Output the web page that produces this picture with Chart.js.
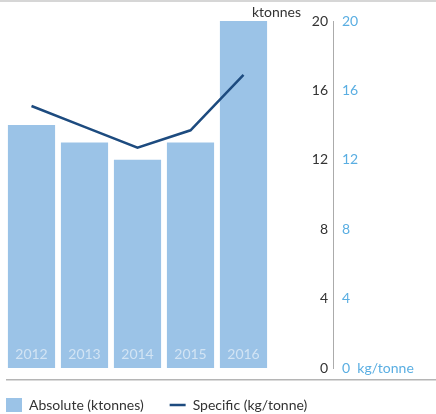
<!DOCTYPE html>
<html>
<head>
<meta charset="utf-8">
<script src="https://cdn.jsdelivr.net/npm/chart.js@4/dist/chart.umd.min.js"></script>
<style>
  html, body { margin: 0; padding: 0; background: #fff; }
  #wrap { width: 436px; height: 414px; position: relative; }
</style>
</head>
<body>
<div id="wrap"><canvas id="chart"></canvas></div>
<script>
// ── Data ──
const years = ['2012', '2013', '2014', '2015', '2016'];
const absolute = [14, 13, 12, 13, 20];          // ktonnes
const specific = [15.1, 13.9, 12.7, 13.7, 16.9]; // kg/tonne
const axisMin = 0, axisMax = 20, axisStep = 4;

const barColor = '#9bc3e7';
const lineColor = '#1d4b7f';
const blueText = '#5aaee2';
const darkText = '#333333';

Chart.defaults.font.family = 'Lato, "Open Sans", sans-serif';
Chart.defaults.font.size = 14;
Chart.defaults.color = darkText;

// ── Extra decorations: rules + axis unit ──
const decor = {
    id: 'decor',
    afterDraw(chart) {
        const { ctx, width } = chart;
        const y = chart.scales.y;
        ctx.save();
        ctx.fillStyle = '#d6d6d6';
        ctx.fillRect(0, 0, width, 2);
        ctx.fillStyle = '#b5b5b5';
        ctx.fillRect(6, 379, width - 6, 1.5);
        ctx.fillStyle = darkText;
        ctx.font = '14px Lato, "Open Sans", sans-serif';
        ctx.textAlign = 'right';
        ctx.textBaseline = 'middle';
        ctx.fillText('ktonnes', y.right - 27, 12);
        ctx.restore();
    }
};

// blank scale used only as spacing
const spacer = (pos, w, weight) => ({
    type: 'linear',
    position: pos,
    display: true,
    weight: weight,
    ticks: { display: false },
    grid: { display: false, drawTicks: false },
    border: { display: false },
    afterFit: s => { s.width = w; }
});

const ctx = document.getElementById('chart').getContext('2d');
new Chart(ctx, {
    data: {
        labels: years,
        datasets: [
            {
                type: 'bar',
                label: 'Absolute (ktonnes)',
                data: absolute,
                backgroundColor: barColor,
                borderWidth: 0,
                barPercentage: 0.89,
                categoryPercentage: 1,
                yAxisID: 'y',
                order: 1
            },
            {
                type: 'line',
                label: 'Specific (kg/tonne)',
                data: specific,
                borderColor: lineColor,
                backgroundColor: lineColor,
                borderWidth: 2.5,
                pointRadius: 0,
                tension: 0,
                yAxisID: 'y1',
                order: 0
            }
        ]
    },
    options: {
        responsive: true,
        maintainAspectRatio: false,
        animation: false,
        layout: { padding: { top: 21, left: -20, right: 0, bottom: -8 } },
        plugins: {
            tooltip: { enabled: false },
            legend: {
                position: 'bottom',
                align: 'start',
                labels: {
                    usePointStyle: true,
                    pointStyleWidth: 16,
                    padding: 26,
                    color: darkText,
                    font: { size: 14 },
                    sort: (a, b) => a.datasetIndex - b.datasetIndex,
                    generateLabels: chart => {
                        const items = Chart.defaults.plugins.legend.labels.generateLabels(chart);
                        items.forEach(it => { it.pointStyle = it.datasetIndex === 0 ? 'rect' : 'line'; });
                        return items;
                    }
                }
            }
        },
        scales: {
            // spacer so the legend can sit left of the plot edge
            pad: spacer('left', 25, 0),
            x: {
                grid: { display: false, drawTicks: false },
                border: { display: false },
                ticks: {
                    z: 1,
                    mirror: true,
                    padding: 5,
                    color: 'rgba(255,255,255,0.55)',
                    font: { size: 14 }
                },
                afterFit: s => { s.height = 4; }
            },
            y: {
                position: 'right',
                weight: 1,
                min: axisMin,
                max: axisMax,
                grid: { display: false, drawTicks: false },
                border: { display: false },
                ticks: {
                    stepSize: axisStep,
                    crossAlign: 'far',
                    padding: 0,
                    color: darkText
                },
                afterFit: s => { s.width = 58; }
            },
            gap: spacer('right', 5, 2),
            y1: {
                position: 'right',
                weight: 3,
                min: axisMin,
                max: axisMax,
                grid: { display: false, drawTicks: false },
                border: { display: true, color: '#ababab', width: 1, dash: [1, 2] },
                ticks: {
                    stepSize: axisStep,
                    padding: 9,
                    color: blueText,
                    callback: v => v === 0 ? '0  kg/tonne' : v
                },
                afterFit: s => { s.width = 103; }
            }
        }
    },
    plugins: [decor]
});
</script>
</body>
</html>
